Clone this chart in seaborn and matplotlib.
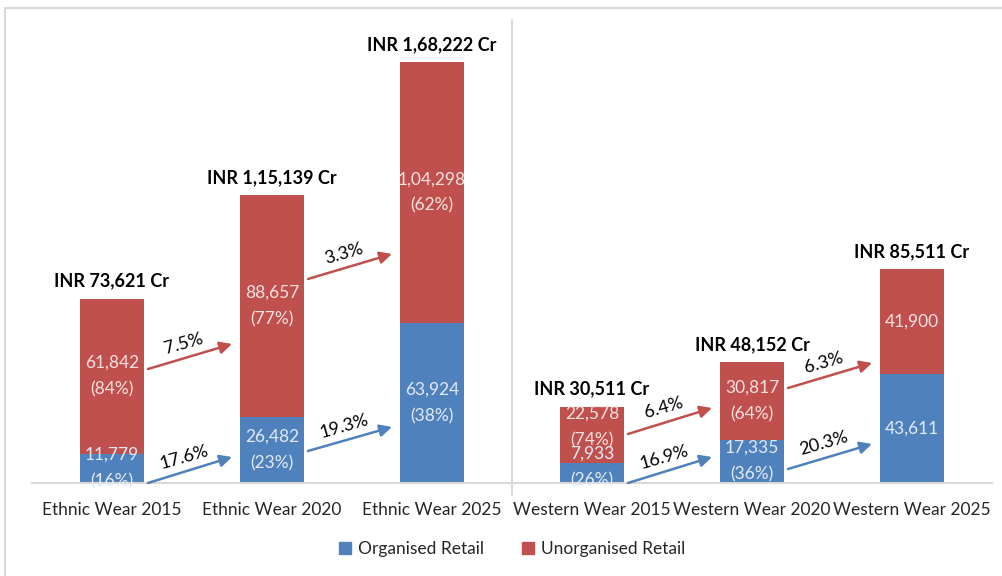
import numpy as np
import pandas as pd
import matplotlib
matplotlib.use("Agg")
import matplotlib.pyplot as plt
from matplotlib.patches import Rectangle, Patch
import seaborn as sns

# chart data
categories = ['Ethnic Wear 2015', 'Ethnic Wear 2020', 'Ethnic Wear 2025',
              'Western Wear 2015', 'Western Wear 2020', 'Western Wear 2025']
organised = [11779, 26482, 63924, 7933, 17335, 43611]
unorganised = [61842, 88657, 104298, 22578, 30817, 41900]
organised_pct = ['16%', '23%', '38%', '26%', '36%', None]
unorganised_pct = ['84%', '77%', '62%', '74%', '64%', None]

# growth arrows: (from bar, to bar, label, y start, y end)
growth_pairs = [(0, 1), (1, 2), (3, 4), (4, 5)]
unorg_growth = ['7.5%', '3.3%', '6.4%', '6.3%']
unorg_arrow_y = [(45550, 55540), (81520, 91510), (19580, 29970), (37960, 47950)]
org_growth = ['17.6%', '19.3%', '16.9%', '20.3%']
org_arrow_y = [(0, 10390), (12790, 22380), (0, 10390), (5590, 15580)]

BLUE = '#4F81BD'
RED = '#C0504D'


def indian_fmt(n):
    s = str(int(n))
    if len(s) <= 3:
        return s
    head, tail = s[:-3], s[-3:]
    parts = []
    while len(head) > 2:
        parts.insert(0, head[-2:])
        head = head[:-2]
    if head:
        parts.insert(0, head)
    return ','.join(parts) + ',' + tail


df = pd.DataFrame({'category': categories,
                   'organised': organised,
                   'unorganised': unorganised})
df['total'] = df['organised'] + df['unorganised']

sns.set_style('white')
plt.rcParams['font.family'] = ['Lato', 'DejaVu Sans']

fig = plt.figure(figsize=(10.02, 5.76), dpi=100)
ax = fig.add_axes([32 / 1002, 93 / 576, 960 / 1002, 463 / 576])

# stacked bars: totals in red, organised in blue on top of it
sns.barplot(data=df, x='category', y='total', color=RED, width=0.4,
            saturation=1, ax=ax, linewidth=0)
sns.barplot(data=df, x='category', y='organised', color=BLUE, width=0.4,
            saturation=1, ax=ax, linewidth=0)

ax.set_ylim(0, 185000)
ax.set_xlim(-0.5, 5.5)
ax.set_yticks([])
ax.set_xlabel('')
ax.set_ylabel('')
for s in ['top', 'right', 'left']:
    ax.spines[s].set_visible(False)
ax.spines['bottom'].set_color('#D9D9D9')
ax.spines['bottom'].set_linewidth(1.5)
ax.tick_params(axis='x', length=0, pad=14, labelsize=12.5, colors='#262626')

# separator between ethnic and western
ax.axvline(2.5, ymin=-0.026, ymax=1, color='#D9D9D9', lw=1.5, clip_on=False)

# label nudges (pixels) for crowded small bars
red_nudge = {3: 8}
blue_nudge = {3: 6}

for i, row in df.iterrows():
    # total label
    ax.annotate('INR ' + indian_fmt(row['total']) + ' Cr', (i, row['total']),
                xytext=(0, 9), textcoords='offset pixels', ha='center', va='bottom',
                fontsize=13, fontweight='bold', color='black')
    # unorganised label
    txt = indian_fmt(row['unorganised'])
    if unorganised_pct[i]:
        txt += '\n(' + unorganised_pct[i] + ')'
    ax.annotate(txt, (i, row['organised'] + row['unorganised'] / 2),
                xytext=(0, red_nudge.get(i, 0)), textcoords='offset pixels',
                ha='center', va='center', fontsize=12.5, color='#F5E1E0',
                linespacing=1.8)
    txt = indian_fmt(row['organised'])
    if organised_pct[i]:
        txt += '\n(' + organised_pct[i] + ')'
    ax.annotate(txt, (i, row['organised'] / 2),
                xytext=(0, blue_nudge.get(i, 0)), textcoords='offset pixels',
                ha='center', va='center', fontsize=12.5, color='#E2EAF4',
                linespacing=1.8, annotation_clip=False)

# growth arrows
arrow_sets = [(unorg_growth, unorg_arrow_y, RED), (org_growth, org_arrow_y, BLUE)]
for labels, ys, col in arrow_sets:
    for (a, b), lab, (y0, y1) in zip(growth_pairs, labels, ys):
        x0, x1 = a + 0.225, b - 0.25
        ax.annotate('', xy=(x1, y1), xytext=(x0, y0),
                    arrowprops=dict(arrowstyle='-|>', color=col, lw=1.8,
                                    mutation_scale=18, shrinkA=0, shrinkB=0),
                    annotation_clip=False)
        ax.annotate(lab, ((x0 + x1) / 2, (y0 + y1) / 2), xytext=(-6, 13),
                    textcoords='offset pixels', ha='center', va='center',
                    rotation=16, rotation_mode='anchor', fontsize=13, color='black')

# legend
handles = [Patch(color=BLUE, label='Organised Retail'),
           Patch(color=RED, label='Unorganised Retail')]
fig.legend(handles=handles, loc='center', bbox_to_anchor=(512 / 1002, 1 - 549 / 576),
           ncol=2, frameon=False, fontsize=12.5, handlelength=0.7, handleheight=0.7,
           handletextpad=0.4, columnspacing=2.2)

# outer chart border
fig.patches.append(Rectangle((5 / 1002, -0.05), 1.1, 1 - 8 / 576 + 0.05,
                             transform=fig.transFigure, fill=False,
                             edgecolor='#D9D9D9', lw=1.5))

fig.savefig('out.png', dpi=100)
